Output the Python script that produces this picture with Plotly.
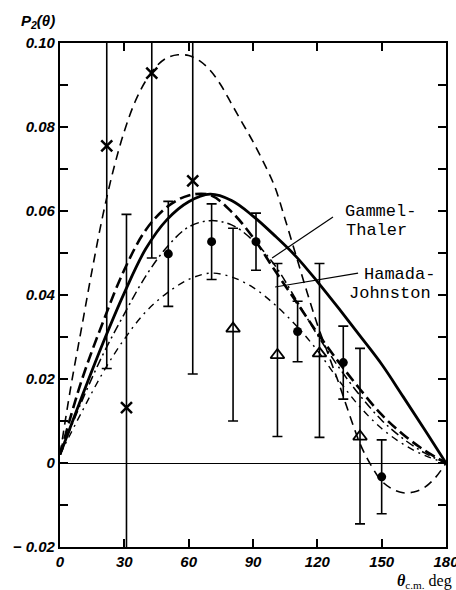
import plotly.graph_objects as go

# ---- theoretical curves: P2(theta) vs centre-of-mass angle (deg) ----
THETA_A = [0, 5, 10, 15, 20, 25, 30, 35, 40, 45, 50, 55, 60, 65, 70, 75, 80, 85, 90,
           95, 100, 105, 110, 115, 120, 125, 130, 135, 140, 145, 150, 155, 160, 165,
           170, 175, 180]
P2_A = [0.002, 0.018, 0.032, 0.046, 0.059, 0.070, 0.079, 0.086, 0.091, 0.0945, 0.0965,
        0.0972, 0.097, 0.0958, 0.0935, 0.090, 0.0855, 0.081, 0.0765, 0.0715, 0.066,
        0.058, 0.0495, 0.041, 0.033, 0.026, 0.019, 0.0115, 0.0045, -0.0005, -0.0043,
        -0.0062, -0.0071, -0.0069, -0.0058, -0.0035, 0.0]

THETA_STD = [0, 10, 20, 30, 40, 50, 60, 70, 80, 90, 100, 110, 120, 130, 140, 150, 160,
             170, 180]
P2_SOLID = [0.002, 0.0155, 0.0285, 0.0405, 0.051, 0.058, 0.0622, 0.064, 0.0625, 0.0588,
            0.0542, 0.0492, 0.0432, 0.0368, 0.0302, 0.0235, 0.0158, 0.008, 0.0]
P2_GAMMEL = [0.002, 0.0195, 0.0335, 0.046, 0.0555, 0.061, 0.0637, 0.0638, 0.0598,
             0.0537, 0.046, 0.0385, 0.031, 0.024, 0.0175, 0.0115, 0.0068, 0.003, 0.0]
P2_HAMADA = [0.002, 0.0145, 0.0258, 0.0355, 0.0445, 0.0515, 0.0562, 0.0577, 0.0567,
             0.053, 0.0472, 0.039, 0.0305, 0.0228, 0.016, 0.0102, 0.0058, 0.0024, 0.0]
P2_LOW = [0.002, 0.012, 0.0215, 0.0295, 0.036, 0.0405, 0.0437, 0.0452, 0.0443, 0.0418,
          0.0378, 0.0328, 0.0268, 0.0197, 0.0133, 0.0082, 0.0045, 0.0018, 0.0]

# ---- measurements ----
CROSS_THETA = [21.8, 31.0, 42.8, 61.9]
CROSS_P2 = [0.0755, 0.0132, 0.0928, 0.0672]
CROSS_ERR = [0.053, 0.046, 0.044, 0.046]

DOT_THETA = [50.5, 70.7, 91.4, 110.8, 132.1, 150.0]
DOT_P2 = [0.0498, 0.0527, 0.0527, 0.0313, 0.0239, -0.0033]
DOT_ERR = [0.0125, 0.009, 0.0068, 0.0072, 0.0087, 0.0088]

TRI_THETA = [80.7, 101.4, 121.0, 139.9]
TRI_P2 = [0.032, 0.0257, 0.0261, 0.0063]
TRI_ERR_UP = [0.0239, 0.0218, 0.0214, 0.021]
TRI_ERR_DN = [0.022, 0.0194, 0.020, 0.0208]

X_TICKS = [0, 30, 60, 90, 120, 150, 180]
Y_TICK_VALUES = [-0.02, 0.0, 0.02, 0.04, 0.06, 0.08, 0.10]
Y_TICK_TEXT = ["\u2212 0.02", "0", "0.02", "0.04", "0.06", "0.08", "0.10"]
Y_MINOR_STEP = 0.01

LABEL_FONT = "Liberation Sans Narrow, Arial Narrow, Liberation Sans, sans-serif"
TEXT_FONT = "Liberation Mono, Courier New, monospace"

fig = go.Figure()


def curve(x, y, width, dash):
    fig.add_trace(go.Scatter(x=x, y=y, mode="lines",
                             line=dict(color="black", width=width, dash=dash,
                                       shape="spline", smoothing=1.0),
                             hoverinfo="skip", showlegend=False))


curve(THETA_A, P2_A, 1.6, "9px,6px")
curve(THETA_STD, P2_LOW, 1.4, "7px,5px,2px,5px")
curve(THETA_STD, P2_HAMADA, 1.5, "9px,4px,2px,4px")
curve(THETA_STD, P2_GAMMEL, 2.6, "11px,5px")
curve(THETA_STD, P2_SOLID, 2.8, "solid")

err_style = dict(type="data", color="black", thickness=1.6, width=5)

fig.add_trace(go.Scatter(
    x=CROSS_THETA, y=CROSS_P2, mode="markers",
    marker=dict(symbol="x-thin-open", size=11, color="black",
                line=dict(color="black", width=2.5)),
    error_y=dict(array=CROSS_ERR, **err_style), showlegend=False))

fig.add_trace(go.Scatter(
    x=DOT_THETA, y=DOT_P2, mode="markers",
    marker=dict(symbol="circle", size=9, color="black"),
    error_y=dict(array=DOT_ERR, **err_style), showlegend=False))

fig.add_trace(go.Scatter(
    x=TRI_THETA, y=TRI_P2, mode="markers",
    marker=dict(symbol="triangle-up-open", size=12, color="black",
                line=dict(color="black", width=1.8)),
    error_y=dict(array=TRI_ERR_UP, arrayminus=TRI_ERR_DN, symmetric=False,
                 **err_style), showlegend=False))

# pointer lines from the curve names to their curves
for (x0, y0, x1, y1) in [(127.3, 0.0586, 98.9, 0.0488), (139.0, 0.0452, 100.3, 0.0419)]:
    fig.add_shape(type="line", x0=x0, y0=y0, x1=x1, y1=y1, xref="x", yref="y",
                  line=dict(color="black", width=1.2))

name_font = dict(family=TEXT_FONT, size=17, color="black")
for (tx, ty, txt) in [(132.0, 0.0600, "Gammel-"), (132.6, 0.0553, "Thaler"),
                      (140.8, 0.0450, "Hamada-"), (133.8, 0.0403, "Johnston")]:
    fig.add_annotation(x=tx, y=ty, xref="x", yref="y", text=txt, showarrow=False,
                       xanchor="left", yanchor="middle", font=name_font)

fig.add_annotation(x=-0.057, y=1.042, xref="paper", yref="paper",
                   text="<b><i>P</i></b><sub><b><i>2</i></b></sub><b><i>(\u03b8)</i></b>",
                   showarrow=False, xanchor="center", yanchor="middle",
                   font=dict(family=LABEL_FONT, size=15, color="black"))
fig.add_annotation(x=1.02, y=-0.069, xref="paper", yref="paper",
                   text="<b><i>\u03b8</i></b><sub>c.m.</sub> deg",
                   showarrow=False, xanchor="right", yanchor="middle",
                   font=dict(family="Liberation Serif, serif", size=16, color="black"))

tick_font = dict(family=LABEL_FONT, size=15, color="black", weight="bold", style="italic")

fig.update_xaxes(range=[0, 180], tickvals=X_TICKS, ticks="inside", ticklen=8,
                 tickwidth=2, tickcolor="black", mirror="ticks", showline=True,
                 linewidth=2.2, linecolor="black", showgrid=False, zeroline=False,
                 tickfont=tick_font, ticklabeloverflow="allow", automargin=False)
fig.update_yaxes(range=[-0.02, 0.10], tickvals=Y_TICK_VALUES, ticktext=Y_TICK_TEXT,
                 ticks="inside", ticklen=8, tickwidth=2, tickcolor="black",
                 minor=dict(dtick=Y_MINOR_STEP, tick0=0, ticks="inside", ticklen=8,
                            tickwidth=2, tickcolor="black", showgrid=False),
                 mirror="ticks", showline=True, linewidth=2.2, linecolor="black",
                 showgrid=False, zeroline=True, zerolinecolor="black",
                 zerolinewidth=1.2, tickfont=tick_font, ticklabeloverflow="allow",
                 automargin=False)

fig.update_layout(width=456, height=590, autosize=False,
                  margin=dict(l=60, r=10, t=43, b=43),
                  paper_bgcolor="white", plot_bgcolor="white", showlegend=False)

fig.write_html("out.html")
